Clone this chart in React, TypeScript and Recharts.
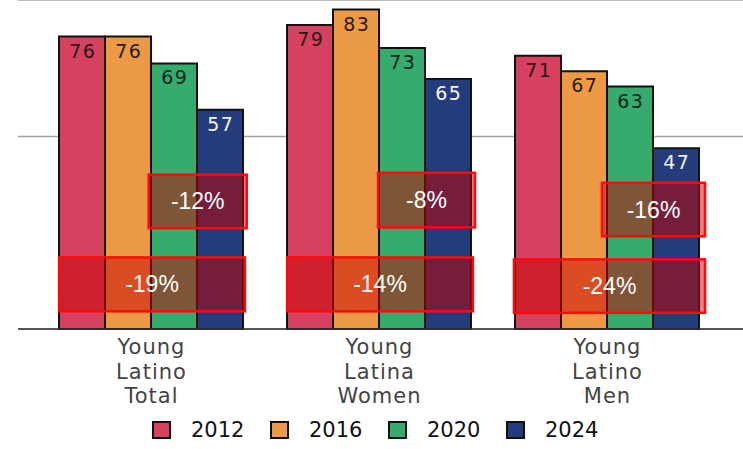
import React from "react";
import {
  BarChart,
  Bar,
  XAxis,
  YAxis,
  CartesianGrid,
  Legend,
  LabelList,
  ReferenceArea,
} from "recharts";

// ─── data ─────────────────────────────────────────────────────────────────────
const groups = ["Young Latino Total", "Young Latina Women", "Young Latino Men"];
const v2012 = [76, 79, 71];
const v2016 = [76, 83, 67];
const v2020 = [69, 73, 63];
const v2024 = [57, 65, 47];

// change labels: 2012→2024 (lower box) and 2020→2024 (upper box)
const changeTotal = ["-19%", "-14%", "-24%"];
const changeRecent = ["-12%", "-8%", "-16%"];

// box extents: x as fraction of the group's band, y in value units
const lowerBoxX = [
  [0.097, 0.912],
  [0.097, 0.912],
  [0.092, 0.93],
];
const lowerBoxY = [
  [4.6, 18.6],
  [4.6, 18.6],
  [4.2, 18.1],
];
const upperBoxX = [
  [0.49, 0.92],
  [0.496, 0.921],
  [0.478, 0.93],
];
const upperBoxY = [
  [26.2, 40.1],
  [26.4, 40.6],
  [24.1, 38.0],
];

const SERIES = [
  { key: "y2012", name: "2012", color: "#d6415f", text: "#2a1618" },
  { key: "y2016", name: "2016", color: "#ec9a45", text: "#2a1a10" },
  { key: "y2020", name: "2020", color: "#37aa6e", text: "#10261a" },
  { key: "y2024", name: "2024", color: "#243b7c", text: "#f4f4f4" },
];

const data = groups.map((g, i) => ({
  name: g,
  y2012: v2012[i],
  y2016: v2016[i],
  y2020: v2020[i],
  y2024: v2024[i],
}));

function GroupTick({ x, y, payload }: any) {
  const lines = String(payload.value).split(" ");
  return (
    <g>
      {lines.map((l, i) => (
        <text
          key={i}
          x={x + 0.5}
          y={y + 17 + i * 24.5}
          textAnchor="middle"
          fontFamily="DejaVu Sans, Verdana, sans-serif"
          fontSize={21}
          letterSpacing={1}
          fill="#444"
        >
          {l}
        </text>
      ))}
    </g>
  );
}

function makeBarLabel(color: string) {
  return (props: any) => {
    const { x, y, width, value } = props;
    return (
      <text
        x={Number(x) + Number(width) / 2 + 0.8}
        y={Number(y) + 21}
        textAnchor="middle"
        fontFamily="DejaVu Sans, Verdana, sans-serif"
        fontSize={19}
        letterSpacing={1.5}
        fill={color}
      >
        {value}
      </text>
    );
  };
}

// the reference area covers the whole band; draw the box inside it
function makeBox(fx: number[], label: string) {
  return (props: any) => {
    const { x, y, width, height } = props;
    const bx = x + fx[0] * width;
    const bw = (fx[1] - fx[0]) * width;
    return (
      <g>
        <rect
          x={bx}
          y={y}
          width={bw}
          height={height}
          fill="rgb(200,0,0)"
          fillOpacity={0.5}
          stroke="#ff0a0a"
          strokeWidth={2.5}
        />
        <text
          x={bx + bw / 2}
          y={y + height / 2}
          dominantBaseline="central"
          textAnchor="middle"
          fontFamily="Liberation Sans, Arial, sans-serif"
          fontSize={23}
          fill="#fff"
        >
          {label}
        </text>
      </g>
    );
  };
}

function LegendBox() {
  return (
    <div
      style={{
        display: "flex",
        alignItems: "center",
        height: 40,
        paddingLeft: 152,
        paddingTop: 2,
        boxSizing: "border-box",
        fontFamily: "DejaVu Sans, Verdana, sans-serif",
        fontSize: 21,
        color: "#111",
      }}
    >
      {SERIES.map((s) => (
        <div
          key={s.key}
          style={{ display: "flex", alignItems: "center", width: 118 }}
        >
          <span
            style={{
              display: "inline-block",
              boxSizing: "border-box",
              width: 19,
              height: 18,
              background: s.color,
              border: "2px solid #111",
              marginRight: 20,
            }}
          />
          <span>{s.name}</span>
        </div>
      ))}
    </div>
  );
}

export default function App() {
  return (
    <div style={{ position: "absolute", left: 0, top: 0, background: "#fff" }}>
      <BarChart
        width={743}
        height={449}
        data={data}
        margin={{ top: 0, right: 0, left: 18, bottom: 0 }}
        barGap={0}
      >
        <CartesianGrid
          vertical={false}
          stroke="#a3a3a3"
          strokeWidth={1.5}
        />
        <XAxis
          dataKey="name"
          height={80}
          padding={{ left: 19, right: 22 }}
          tickLine={false}
          axisLine={{ stroke: "#333", strokeWidth: 1.5 }}
          tick={<GroupTick />}
          interval={0}
        />
        <YAxis hide domain={[0, 85.5]} ticks={[50]} />
        <Legend
          verticalAlign="bottom"
          align="left"
          height={40}
          wrapperStyle={{ left: 0, width: 743, height: 40 }}
          content={() => <LegendBox />}
        />
        {SERIES.map((s) => (
          <Bar
            key={s.key}
            dataKey={s.key}
            name={s.name}
            fill={s.color}
            stroke="#111"
            strokeWidth={2}
            barSize={46}
            isAnimationActive={false}
          >
            <LabelList dataKey={s.key} content={makeBarLabel(s.text)} />
          </Bar>
        ))}
        {groups.map((g, i) => (
          <ReferenceArea
            key={"lo" + i}
            x1={g}
            x2={g}
            y1={lowerBoxY[i][0]}
            y2={lowerBoxY[i][1]}
            ifOverflow="visible"
            zIndex={700}
            shape={makeBox(lowerBoxX[i], changeTotal[i])}
          />
        ))}
        {groups.map((g, i) => (
          <ReferenceArea
            key={"up" + i}
            x1={g}
            x2={g}
            y1={upperBoxY[i][0]}
            y2={upperBoxY[i][1]}
            ifOverflow="visible"
            zIndex={700}
            shape={makeBox(upperBoxX[i], changeRecent[i])}
          />
        ))}
      </BarChart>
    </div>
  );
}
